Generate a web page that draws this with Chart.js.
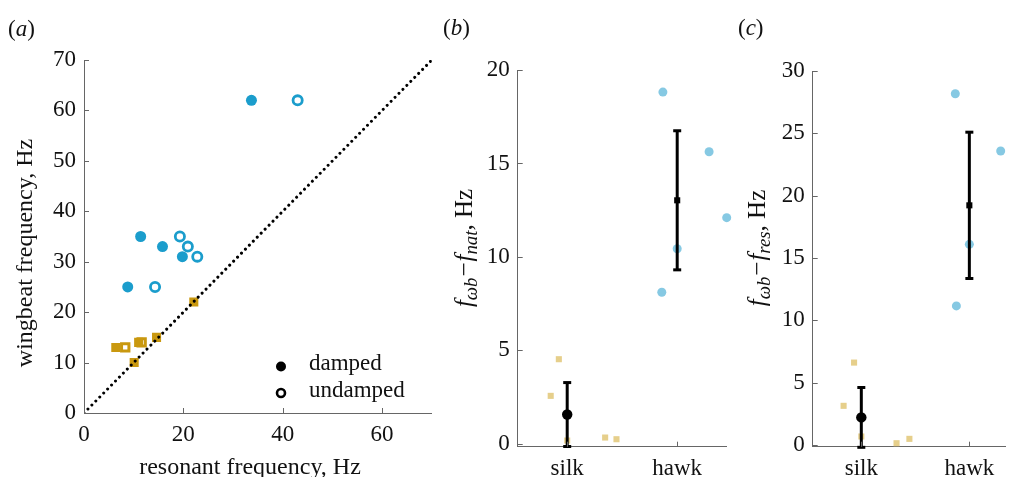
<!DOCTYPE html>
<html>
<head>
<meta charset="utf-8">
<script src="https://cdn.jsdelivr.net/npm/chart.js@4.4.1/dist/chart.umd.min.js"></script>
<style>
  body { margin: 0; background: #fff; width: 1012px; height: 477px; position: relative; overflow: hidden; }
  canvas { position: absolute; top: 0; }
</style>
</head>
<body>
<canvas id="pa" width="440" height="477" style="left:0"></canvas>
<canvas id="pb" width="295" height="477" style="left:440px"></canvas>
<canvas id="pc" width="277" height="477" style="left:735px"></canvas>
<script>
// (a) wingbeat vs resonant frequency, [resonant, wingbeat]
const hawkDamped = [[33.7, 62], [11.4, 35], [15.8, 33], [19.8, 31], [8.8, 25]];
const hawkUndamped = [[43.0, 62], [19.3, 35], [20.9, 33], [22.8, 31], [14.3, 25]];
const silkDamped = [[6.4, 13], [11.0, 14], [10.1, 10], [14.6, 15], [22.1, 22]];
const silkUndamped = [[8.3, 13], [11.6, 14]];
const unityLine = [[0, 0], [70, 70]];
const aTicksX = [0, 20, 40, 60];
const aTicksY = [0, 10, 20, 30, 40, 50, 60, 70];

// (b) and (c): groups, jittered individual points [position, value], mean and sd
const groups = ['silk', 'hawk'];
const natSilk = [[0.85, 2.57], [0.924, 4.53], [1.0, 0.18], [1.345, 0.34], [1.448, 0.25]];
const natHawk = [[1.87, 18.82], [2.29, 15.63], [2.45, 12.1], [2.0, 10.44], [1.86, 8.11]];
const natMean = [1.57, 13.03];
const natSd = [1.71, 3.72];
const bTicksY = [0, 5, 10, 15, 20];

const resSilk = [[0.836, 3.13], [0.933, 6.6], [1.0, 0.67], [1.326, 0.13], [1.445, 0.48]];
const resHawk = [[1.87, 28.17], [2.29, 23.58], [2.0, 16.09], [1.88, 11.15]];
const resMean = [2.2, 19.22];
const resSd = [2.4, 5.87];
const cTicksY = [0, 5, 10, 15, 20, 25, 30];

const SERIF = "'Liberation Serif', 'DejaVu Serif', serif";
const BLUE = '#1b9dcc', GOLD = '#c9980f';
const LBLUE = '#86c9e3', LGOLD = '#e6cf8b';

const pts = a => a.map(p => ({ x: p[0], y: p[1] }));

// text with italic parts and subscripts; align 'center' or 'left'
function richText(ctx, parts, x, y, rot, size, align) {
  ctx.save();
  ctx.translate(x, y);
  ctx.rotate(rot);
  ctx.textBaseline = 'alphabetic';
  ctx.textAlign = 'left';
  ctx.fillStyle = '#111';
  const fontOf = p => (p.it ? 'italic ' : '') + (p.sub ? size * 0.75 : size) + 'px ' + SERIF;
  let w = 0;
  parts.forEach(p => { ctx.font = fontOf(p); w += ctx.measureText(p.t).width + (p.pad || 0) * 2; });
  let cx = align === 'left' ? 0 : -w / 2;
  parts.forEach(p => {
    ctx.font = fontOf(p);
    cx += p.pad || 0;
    ctx.fillText(p.t, cx, p.sub ? size * 0.22 + size * 0.35 : size * 0.35);
    cx += ctx.measureText(p.t).width + (p.pad || 0);
  });
  ctx.restore();
}

// ticks pointing into the plot, placed from the scales
const inTicks = {
  id: 'inTicks',
  afterDraw(chart) {
    const ctx = chart.ctx, area = chart.chartArea;
    ctx.save();
    ctx.strokeStyle = '#666';
    ctx.lineWidth = 1;
    ctx.beginPath();
    chart.scales.x.ticks.forEach(t => {
      const px = Math.round(chart.scales.x.getPixelForValue(t.value)) + 0.5;
      ctx.moveTo(px, area.bottom); ctx.lineTo(px, area.bottom - 5);
    });
    chart.scales.y.ticks.forEach(t => {
      const py = Math.round(chart.scales.y.getPixelForValue(t.value)) + 0.5;
      ctx.moveTo(area.left, py); ctx.lineTo(area.left + 5, py);
    });
    ctx.stroke();
    ctx.restore();
  }
};

// panel letters, axis titles, legend
const decor = {
  id: 'decor',
  afterDraw(chart, args, o) {
    const ctx = chart.ctx;
    richText(ctx, [{ t: '(' }, { t: o.letter[0], it: true }, { t: ')' }], o.letter[1], o.letter[2], 0, 23, 'left');
    if (o.ytitle) richText(ctx, o.ytitle[0], o.ytitle[1], o.ytitle[2], -Math.PI / 2, o.ytitle[3] || 24, 'center');
    if (o.xtitle) richText(ctx, o.xtitle[0], o.xtitle[1], o.xtitle[2], 0, 24, 'center');
    if (o.legend) {
      ctx.save();
      ctx.fillStyle = '#000'; ctx.strokeStyle = '#000';
      ctx.beginPath(); ctx.arc(281, 366.5, 5, 0, Math.PI * 2); ctx.fill();
      ctx.lineWidth = 2.6;
      ctx.beginPath(); ctx.arc(281, 393, 4, 0, Math.PI * 2); ctx.stroke();
      ctx.font = '23px ' + SERIF;
      ctx.textBaseline = 'middle';
      ctx.fillStyle = '#111';
      ctx.fillText('damped', 309, 364);
      ctx.fillText('undamped', 309, 391);
      ctx.restore();
    }
  }
};

function fixBox(left, bottomH) {
  return {
    y: s => { s.width = left; },
    x: s => { s.height = bottomH; }
  };
}

function axisBase(min, max, tickVals, fit) {
  return {
    type: 'linear', min: min, max: max,
    afterBuildTicks: s => { s.ticks = tickVals.map(v => ({ value: v })); },
    afterFit: fit,
    grid: { drawOnChartArea: false, drawTicks: false },
    border: { display: true, color: '#666', width: 1 },
    ticks: { color: '#111', font: { family: SERIF, size: 23 }, padding: 8, autoSkip: false, maxRotation: 0 }
  };
}

const common = {
  responsive: false,
  animation: false,
  events: [],
  plugins: { legend: { display: false }, tooltip: { enabled: false } }
};

// panel (a)
const fa = fixBox(84, 477 - 413);
new Chart(document.getElementById('pa'), {
  type: 'scatter',
  data: {
    datasets: [
      { type: 'line', data: pts(unityLine), borderColor: '#000', borderWidth: 3, borderDash: [0.01, 5.6],
        borderCapStyle: 'round', pointRadius: 0, fill: false, order: 0 },
      { data: pts(silkDamped), pointStyle: 'rect', pointRadius: 6.4, backgroundColor: GOLD, borderColor: GOLD,
        borderWidth: 0, order: 1 },
      { data: pts(silkUndamped), pointStyle: 'rect', pointRadius: 5.2, backgroundColor: '#fff', borderColor: GOLD,
        borderWidth: 3, order: 2 },
      { data: pts(hawkDamped), pointStyle: 'circle', pointRadius: 5.5, backgroundColor: BLUE, borderColor: BLUE,
        borderWidth: 0, order: 3 },
      { data: pts(hawkUndamped), pointStyle: 'circle', pointRadius: 4.6, backgroundColor: '#fff', borderColor: BLUE,
        borderWidth: 2.8, order: 4 }
    ]
  },
  options: Object.assign({}, common, {
    layout: { padding: { top: 60, right: 440 - 432, left: 0, bottom: 0 } },
    scales: {
      x: axisBase(0, 70, aTicksX, fa.x),
      y: axisBase(0, 70, aTicksY, fa.y)
    },
    plugins: Object.assign({}, common.plugins, {
      decor: {
        letter: ['a', 8, 28],
        ytitle: [[{ t: 'wingbeat frequency, Hz' }], 24, 253],
        xtitle: [[{ t: 'resonant frequency, Hz' }], 250, 466],
        legend: true
      }
    })
  }),
  plugins: [inTicks, decor]
});

function groupChart(id, silk, hawk, mean, sd, ymax, yticks, xmax, top, left, width, letter, sym, titleX) {
  const f = fixBox(left, 477 - 446.7);
  const bars = groups.map((g, i) => ({
    type: 'line',
    data: [{ x: i + 1, y: mean[i] - sd[i] }, { x: i + 1, y: mean[i] + sd[i] }],
    borderColor: '#000', borderWidth: 3, pointStyle: 'line', pointRadius: 4,
    pointBorderWidth: 3, pointBorderColor: '#000', clip: false, order: 1
  }));
  new Chart(document.getElementById(id), {
    type: 'scatter',
    data: {
      datasets: [
        { data: groups.map((g, i) => ({ x: i + 1, y: mean[i] })), pointStyle: ['circle', 'rect'],
          pointRadius: [5.2, 4.3], backgroundColor: '#000', borderWidth: 0, clip: false, order: 0 }
      ].concat(bars).concat([
        { data: pts(silk), pointStyle: 'rect', pointRadius: 4.3, backgroundColor: LGOLD, borderWidth: 0,
          clip: false, order: 2 },
        { data: pts(hawk), pointStyle: 'circle', pointRadius: 4.5, backgroundColor: LBLUE, borderWidth: 0,
          clip: false, order: 2 }
      ])
    },
    options: Object.assign({}, common, {
      layout: { padding: { top: top, right: width - left - (xmax - 0.55) * 110, left: 0, bottom: 0 } },
      scales: {
        x: axisBase(0.55, xmax, [1, 2], f.x),
        y: axisBase(-0.15, ymax, yticks, f.y)
      },
      plugins: Object.assign({}, common.plugins, {
        decor: {
          letter: [letter, 3, 27],
          ytitle: [[{ t: 'f', it: true }, { t: 'ωb', it: true, sub: true }, { t: '−', pad: 1 },
                    { t: 'f', it: true }, { t: sym, it: true, sub: true }, { t: ', Hz' }], titleX, 248, 25]
        }
      })
    }),
    plugins: [inTicks, decor, {
      id: 'catLabels',
      beforeInit(chart) {
        chart.options.scales.x.ticks.callback = v => groups[Math.round(v) - 1];
      }
    }]
  });
}

groupChart('pb', natSilk, natHawk, natMean, natSd, 20, bTicksY, 2.45, 70, 77.7, 295, 'b', 'nat', 23);
groupChart('pc', resSilk, resHawk, resMean, resSd, 30, cTicksY, 2.33, 71, 77.7, 277, 'c', 'res', 21);
</script>
</body>
</html>
